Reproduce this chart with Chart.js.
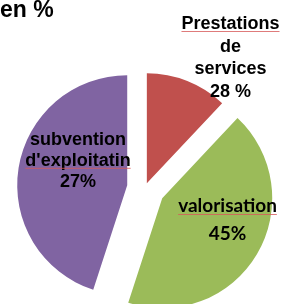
<!DOCTYPE html>
<html>
<head>
<meta charset="utf-8">
<script src="https://cdn.jsdelivr.net/npm/chart.js@4.4.1/dist/chart.umd.min.js"></script>
<style>
  html, body { margin: 0; padding: 0; overflow: hidden; background: #fff; }
  #box { position: relative; width: 283px; height: 340px; }
</style>
</head>
<body>
<div id="box"><canvas id="repartition"></canvas></div>
<script>
/*********************************************
 * Camembert : repartition des recettes en %
 *********************************************/

// parts (taille des secteurs)
var categories = ['Prestations de services', 'valorisation', "subvention d'exploitatin"];
var valeurs = [12, 43, 45];
var couleurs = ['#C0504D', '#9BBB59', '#8064A2'];

// textes des etiquettes, tels qu'ecrits sur le graphique
var etiquettes = [
    ['Prestations', 'de', 'services', '28 %'],
    ['valorisation', '45%'],
    ['subvention', "d'exploitatin", '27%']
];
var titre = 'en %';

// eclatement de chaque secteur (px)
var eclatement = [5, 20, 18];

// placement des etiquettes par rapport au centre du camembert
var etiquettesPos = [
    { dx: 85.5, dy: -159, pas: 22.5, police: 'bold 18px "Liberation Sans", Arial', souligne: 0 },
    { dx: 82.5, dy: 24, pas: 28, police: 'bold 19px Lato, "Open Sans"', souligne: 0 },
    { dx: -67, dy: -43, pas: 20.8, police: 'bold 18px "Liberation Sans", Arial', souligne: 1 }
];

var pluginEclate = {
    id: 'eclate',
    afterDatasetUpdate: function (chart, args) {
        args.meta.data.forEach(function (arc, i) {
            var mid = (arc.startAngle + arc.endAngle) / 2;
            arc.x += Math.cos(mid) * eclatement[i];
            arc.y += Math.sin(mid) * eclatement[i];
        });
    }
};

var pluginEtiquettes = {
    id: 'etiquettes',
    afterDraw: function (chart) {
        var ctx = chart.ctx;
        var ca = chart.chartArea;
        var cx = (ca.left + ca.right) / 2, cy = (ca.top + ca.bottom) / 2;
        ctx.save();
        ctx.textAlign = 'center';
        ctx.textBaseline = 'alphabetic';
        etiquettes.forEach(function (lignes, i) {
            var p = etiquettesPos[i];
            ctx.font = p.police;
            lignes.forEach(function (txt, j) {
                var x = cx + p.dx, y = cy + p.dy + j * p.pas;
                ctx.fillStyle = '#000';
                ctx.fillText(txt, x, y);
                if (j === p.souligne) {
                    // trait rouge du correcteur
                    var w = ctx.measureText(txt).width;
                    ctx.strokeStyle = 'rgba(215,90,90,0.8)';
                    ctx.lineWidth = 1;
                    ctx.beginPath();
                    ctx.moveTo(x - w / 2, y + 2.5);
                    ctx.lineTo(x + w / 2, y + 2.5);
                    ctx.stroke();
                }
            });
        });
        // titre coupe a gauche
        ctx.textAlign = 'left';
        ctx.font = 'bold 23px "Liberation Sans", Arial';
        ctx.fillText(titre, 0, 17);
        ctx.restore();
    }
};

var ctx = document.getElementById('repartition').getContext('2d');
var chart = new Chart(ctx, {
    type: 'pie',
    data: {
        labels: categories,
        datasets: [{
            data: valeurs,
            backgroundColor: couleurs,
            borderWidth: 0
        }]
    },
    options: {
        responsive: true,
        maintainAspectRatio: false,
        animation: false,
        radius: 110,
        layout: { padding: { left: 18, right: 11, top: 61, bottom: 25 } },
        plugins: {
            legend: { display: false },
            tooltip: { enabled: false }
        }
    },
    plugins: [pluginEclate, pluginEtiquettes]
});
</script>
</body>
</html>
